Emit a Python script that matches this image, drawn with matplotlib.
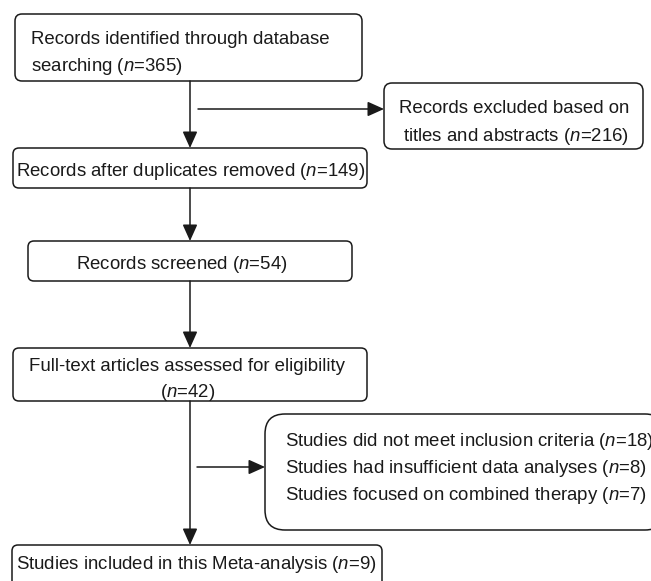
import matplotlib
matplotlib.use("Agg")
import matplotlib.pyplot as plt
from matplotlib.patches import FancyBboxPatch

plt.rcParams['font.family'] = ['Liberation Sans', 'DejaVu Sans']
plt.rcParams['mathtext.fontset'] = 'custom'
plt.rcParams['mathtext.rm'] = 'Liberation Sans'
plt.rcParams['mathtext.it'] = 'Liberation Sans:italic'

# Flow chart content ==========================================================
identified = 365
excluded_titles = 216
after_duplicates = 149
screened = 54
full_text = 42
excl_reasons = ["Studies did not meet inclusion criteria",
                "Studies had insufficient data analyses",
                "Studies focused on combined therapy"]
excl_counts = [18, 8, 7]
included = 9

def n(v):
    return r"($\mathit{n}$=" + str(v) + ")"

# boxes: (x, y_top, width, height, rounding), in pixels
boxes = [
    (15, 14, 347, 67, 7),
    (384, 83, 259, 66, 8),
    (13, 148, 354, 40, 6),
    (28, 241, 324, 40, 6),
    (13, 348, 354, 53, 6),
    (265, 414, 400, 116, 20),
    (12, 545, 370, 50, 6),
]

# texts: (x, y_center, string, ha)
texts = [
    (31, 38, "Records identified through database", 'left'),
    (31, 65, "searching " + n(identified), 'left'),
    (514, 107, "Records excluded based on", 'center'),
    (516, 135, "titles and abstracts " + n(excluded_titles), 'center'),
    (16, 170, "Records after duplicates removed " + n(after_duplicates), 'left'),
    (76, 263, "Records screened " + n(screened), 'left'),
    (29, 365, "Full-text articles assessed for eligibility", 'left'),
    (188, 391, n(full_text), 'center'),
    (16, 563, "Studies included in this Meta-analysis " + n(included), 'left'),
]
for i, (reason, c) in enumerate(zip(excl_reasons, excl_counts)):
    texts.append((285, 440 + 27 * i, reason + " " + n(c), 'left'))

# arrows: (x0, y0, x1, y1)
arrows = [
    (190, 81, 190, 148),
    (198, 109, 384, 109),
    (190, 188, 190, 241),
    (190, 281, 190, 348),
    (190, 401, 190, 545),
    (197, 467, 265, 467),
]

fig = plt.figure(figsize=(6.51, 5.81), dpi=100)
ax = fig.add_axes([0, 0, 1, 1])
ax.set_xlim(0, 651)
ax.set_ylim(581, 0)
ax.axis('off')

for (x, y, w, h, r) in boxes:
    ax.add_patch(FancyBboxPatch((x, y), w, h,
                                boxstyle="round,pad=0,rounding_size=%g" % r,
                                fc='white', ec='#1a1a1a', lw=1.1))

for (x, y, s, ha) in texts:
    ax.text(x, y + 6, s, ha=ha, va='baseline', fontsize=13.4, color='#1a1a1a')

for (x0, y0, x1, y1) in arrows:
    ax.annotate("", xy=(x1, y1), xytext=(x0, y0),
                arrowprops=dict(arrowstyle='-|>,head_length=1.0,head_width=0.45',
                                mutation_scale=10, lw=1.1, color='#1a1a1a',
                                shrinkA=0, shrinkB=0))

fig.savefig("out.png", dpi=100)
